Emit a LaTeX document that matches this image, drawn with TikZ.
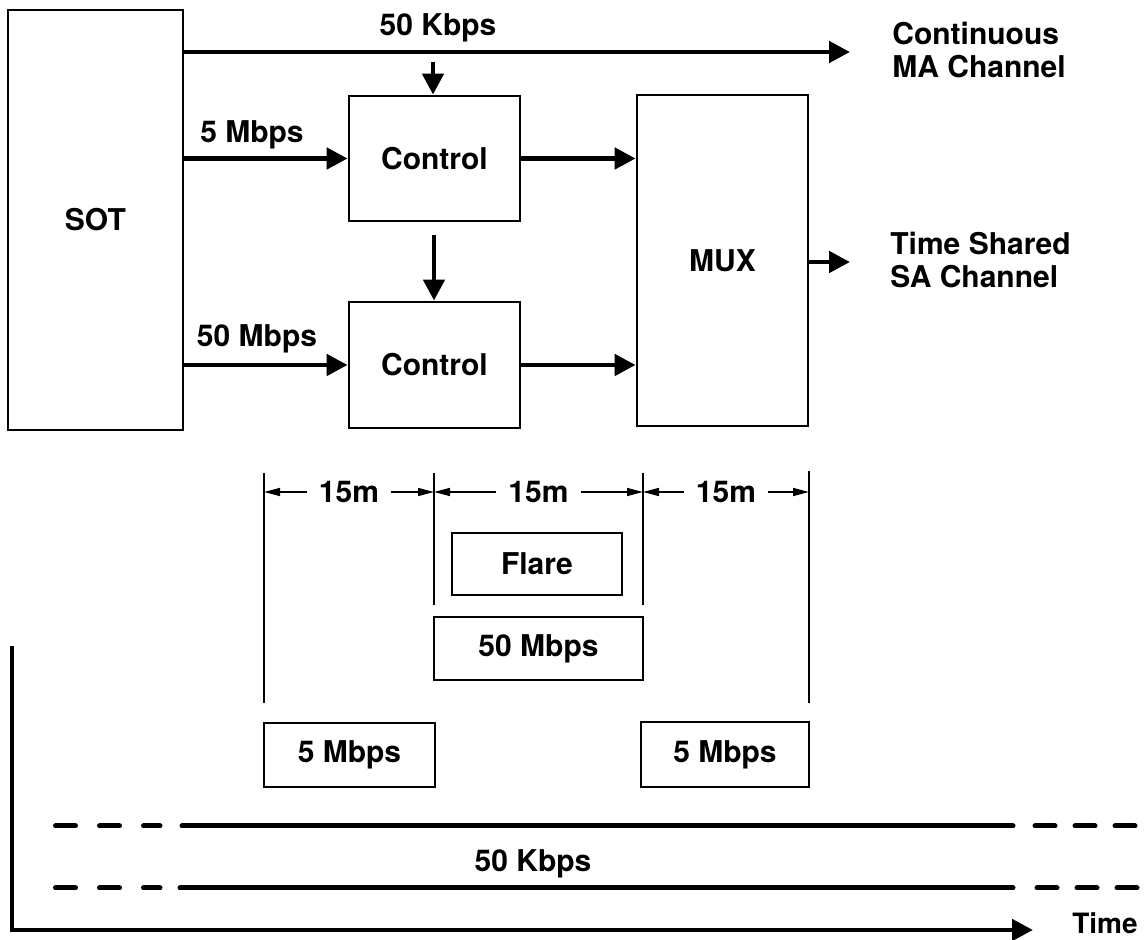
\documentclass[tikz,border=0pt]{standalone}
\usepackage{fontspec}
\setmainfont{TeX Gyre Heros}
\usetikzlibrary{arrows.meta}
\begin{document}
\begin{tikzpicture}[x=.5pt,y=-.5pt,
  font=\bfseries\fontsize{15}{16.5}\selectfont,
  blk/.style={draw,line width=1.4pt,inner sep=0pt},
  flow/.style={line width=2.4pt,-{Triangle[length=10.5pt,width=10.5pt]}},
  dim/.style={line width=0.8pt,{Triangle[length=8pt,width=4pt]}-{Triangle[length=8pt,width=4pt]}},
  tick/.style={line width=0.9pt},
  kbline/.style={line width=2.5pt,line cap=round},
  lbl/.style={inner sep=0pt}]
\path[use as bounding box] (0,0) rectangle (1148,940);
% transmitter chain
\node[blk,minimum width=87.5pt,minimum height=210pt] (sot) at (95.5,220) {SOT};
\node[blk,minimum width=85.5pt,minimum height=62.5pt] (ctla) at (434.5,158.5) {Control};
\node[blk,minimum width=85.5pt,minimum height=63pt] (ctlb) at (434.5,365) {Control};
\node[blk,minimum width=85.5pt,minimum height=165.5pt] (mux) at (722.5,260.5) {MUX};
\coordinate (maend) at (850,52);
\coordinate (saend) at (850,262);
\coordinate (tapa) at (433,62);
\coordinate (tapb) at (434,235);
\draw[flow] (sot.east |- maend) -- (maend);
\draw[flow] (tapa) -- (tapa |- ctla.north);
\draw[flow] (tapb) -- (tapb |- ctlb.north);
\draw[flow] (ctla.west -| sot.east) -- (ctla.west);
\draw[flow] (ctlb.west -| sot.east) -- (ctlb.west);
\draw[flow] (ctla.east) -- (ctla.east -| mux.west);
\draw[flow] (ctlb.east) -- (ctlb.east -| mux.west);
\draw[flow] (mux.east |- saend) -- (saend);
\node[lbl,anchor=base] (kbpsa) at (438,36) {50 Kbps};
\node[lbl,anchor=base] (mbpsa) at (252,143) {5 Mbps};
\node[lbl,anchor=base] (mbpsb) at (257,347) {50 Mbps};
\node[lbl,anchor=north west,align=left] (mach) at (892,22) {Continuous\\MA Channel};
\node[lbl,anchor=north west,align=left] (sach) at (890,232) {Time Shared\\SA Channel};
% timing
\coordinate (ta) at (264,473); \coordinate (ba) at (264,703);
\coordinate (tb) at (434,473); \coordinate (bb) at (434,605);
\coordinate (tc) at (643,473); \coordinate (bc) at (643,605);
\coordinate (td) at (809,471); \coordinate (bd) at (809,703);
\draw[tick] (ta) -- (ba);
\draw[tick] (tb) -- (bb);
\draw[tick] (tc) -- (bc);
\draw[tick] (td) -- (bd);
\coordinate (da) at (264,492); \coordinate (db) at (434,492);
\coordinate (dc) at (643,492); \coordinate (dd) at (809,492);
\draw[dim] (da) -- node[fill=white,inner xsep=6pt,inner ysep=1pt] (spana) {15m} (db);
\draw[dim] (db) -- node[fill=white,inner xsep=6pt,inner ysep=1pt] (spanb) {15m} (dc);
\draw[dim] (dc) -- node[fill=white,inner xsep=6pt,inner ysep=1pt] (spanc) {15m} (dd);
\node[blk,minimum width=85pt,minimum height=31pt] (flare) at (537,564) {Flare};
\node[blk,minimum width=104.5pt,minimum height=31.5pt] (mbpsc) at (538.5,648.5) {50 Mbps};
\node[blk,minimum width=85.5pt,minimum height=32pt] (mbpsd) at (349.5,755) {5 Mbps};
\node[blk,minimum width=84pt,minimum height=32.5pt] (mbpse) at (725,754.5) {5 Mbps};
% continuous channel
\draw[kbline,dash pattern=on 10pt off 12pt] (55.5,826) -- (160,826);
\draw[kbline] (182,826) -- (1013,826);
\draw[kbline,dash pattern=on 10pt off 10pt] (1035,826) -- (1138,826);
\draw[kbline,dash pattern=on 10pt off 12pt] (55.5,888) -- (160,888);
\draw[kbline] (180,888) -- (1013,888);
\draw[kbline,dash pattern=on 10pt off 10pt] (1037,888) -- (1138,888);
\node[lbl,anchor=base] (kbpsb) at (533,872) {50 Kbps};
% time axis
\coordinate (ytop) at (12,646);
\coordinate (org) at (12,930);
\coordinate (xend) at (1033,930);
\draw[line width=2.4pt,line join=miter,-{Triangle[length=10.5pt,width=10.5pt]}] (ytop) -- (org) -- (xend);
\node[lbl,anchor=base east,font=\bfseries\fontsize{14}{16}\selectfont] (time) at (1138,934) {Time};
\end{tikzpicture}
\end{document}
